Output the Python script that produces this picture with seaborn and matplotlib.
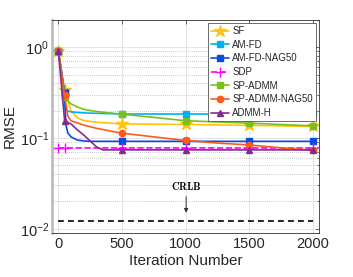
import numpy as np
import pandas as pd
import matplotlib
matplotlib.use("Agg")
import matplotlib.pyplot as plt
import seaborn as sns
from matplotlib.ticker import LogLocator, NullFormatter

sns.set_theme(style="white")
plt.rcParams['font.family'] = ['Liberation Sans', 'DejaVu Sans']

# ---- data ----
marker_iters = [1, 50, 500, 1000, 1500, 2000]

sf_x = [1, 50, 75, 100, 150, 200, 300, 500, 1000, 1500, 2000]
sf_y = [0.91, 0.34, 0.26, 0.20, 0.167, 0.156, 0.149, 0.143, 0.141, 0.138, 0.134]

amfd_x = [1, 50, 55, 100, 200, 500, 1000, 1500, 2000]
amfd_y = [0.91, 0.32, 0.203, 0.194, 0.189, 0.184, 0.184, 0.184, 0.184]

amfdn_x = [1, 50, 60, 75, 100, 150, 200, 250, 500, 1000, 1500, 2000]
amfdn_y = [0.91, 0.31, 0.14, 0.114, 0.103, 0.095, 0.093, 0.092, 0.092, 0.092, 0.092, 0.092]

sdp_x = [1, 50, 500, 1000, 1500, 2000]
sdp_y = [0.077, 0.077, 0.077, 0.077, 0.077, 0.077]

spadmm_x = [1, 50, 75, 100, 150, 200, 300, 500, 750, 1000, 1500, 2000]
spadmm_y = [0.91, 0.28, 0.256, 0.238, 0.22, 0.207, 0.196, 0.183, 0.169, 0.155, 0.146, 0.136]

spn_x = [1, 50, 75, 100, 150, 200, 300, 500, 750, 1000, 1250, 1500, 1750, 2000]
spn_y = [0.91, 0.30, 0.175, 0.155, 0.147, 0.139, 0.128, 0.113, 0.103, 0.094, 0.088, 0.084, 0.078, 0.073]

admmh_x = [1, 50, 75, 100, 150, 200, 250, 300, 350, 500, 1000, 1500, 2000]
admmh_y = [0.91, 0.155, 0.149, 0.143, 0.123, 0.108, 0.093, 0.080, 0.074, 0.074, 0.074, 0.074, 0.074]

crlb_x = [1, 2000]
crlb_y = [0.0123, 0.0123]

series = [
    ("SF", sf_x, sf_y, "#FFC20E", "*", 9, "-"),
    ("AM-FD", amfd_x, amfd_y, "#00B0F0", "s", 4.5, "-"),
    ("AM-FD-NAG50", amfdn_x, amfdn_y, "#0A4BE0", "s", 4.5, "-"),
    ("SDP", sdp_x, sdp_y, "#FF00FF", "+", 7, "--"),
    ("SP-ADMM", spadmm_x, spadmm_y, "#77C020", "s", 4.5, "-"),
    ("SP-ADMM-NAG50", spn_x, spn_y, "#FF5A1E", "o", 4.5, "-"),
    ("ADMM-H", admmh_x, admmh_y, "#7E2F8E", "^", 5, "-"),
]

fig = plt.figure(figsize=(3.53, 2.77), dpi=100)
ax = fig.add_axes([0.147, 0.159, 0.757, 0.769])

for name, xs, ys, col, mk, ms, ls in series:
    df = pd.DataFrame({"x": xs, "y": ys})
    mev = [i for i, v in enumerate(xs) if v in marker_iters]
    sns.lineplot(data=df, x="x", y="y", ax=ax, color=col, marker=mk,
                 markersize=ms, markevery=mev, linestyle=ls, linewidth=1.2,
                 markeredgecolor=col, markerfacecolor=col,
                 markeredgewidth=1.0, label=name, sort=False, estimator=None)

dfc = pd.DataFrame({"x": crlb_x, "y": crlb_y})
sns.lineplot(data=dfc, x="x", y="y", ax=ax, color="black", linestyle="--",
             linewidth=1.2, dashes=False, legend=False, estimator=None)
ax.lines[-1].set_dashes((3.5, 2.5))

ax.set_yscale("log")
ax.set_xlim(-50, 2050)
ax.set_ylim(0.009, 2.0)
ax.set_xticks([0, 500, 1000, 1500, 2000])
ax.yaxis.set_major_locator(LogLocator(base=10, numticks=10))
ax.yaxis.set_minor_locator(LogLocator(base=10, subs=np.arange(2, 10), numticks=20))
ax.yaxis.set_minor_formatter(NullFormatter())

ax.grid(True, which="major", axis="both", color="#E4E4E4", linewidth=0.7, linestyle="-")
ax.grid(True, which="minor", axis="y", color="#9A9A9A", linewidth=0.5, linestyle=(0, (1, 2)))
ax.set_axisbelow(True)

ax.tick_params(axis="both", which="both", direction="in", top=True, right=True,
               labelsize=10.5, color="#333333", length=3, width=0.5, pad=3)
ax.tick_params(axis="y", which="minor", length=1.8)
ax.tick_params(axis="y", which="major", pad=2)

for s in ["top", "right", "bottom"]:
    ax.spines[s].set_color("#333333")
    ax.spines[s].set_linewidth(0.6)
ax.spines["left"].set_color("#BDBDBD")
ax.spines["left"].set_linewidth(2.0)

ax.set_xlabel("Iteration Number", fontsize=11, labelpad=2, color="#262626")
ax.set_ylabel("RMSE", fontsize=11, labelpad=2, color="#262626")

ax.annotate("", xy=(1005, 0.0150), xytext=(1005, 0.0226),
            arrowprops=dict(arrowstyle="-|>", color="0.2", lw=0.7,
                            mutation_scale=6, shrinkA=0, shrinkB=0))
ax.text(1005, 0.0299, r"$\mathbf{CRLB}$", math_fontfamily="cm", fontsize=7.5,
        ha="center", va="center", color="black")

leg = ax.legend(loc="upper right", bbox_to_anchor=(0.99, 0.988), borderaxespad=0,
                fontsize=7.0, frameon=True, fancybox=False, edgecolor="#555555",
                framealpha=1, handlelength=1.9, handletextpad=0.3,
                labelspacing=0.38, borderpad=0.35)
leg.get_frame().set_linewidth(0.6)

fig.savefig("out.png", dpi=100)
